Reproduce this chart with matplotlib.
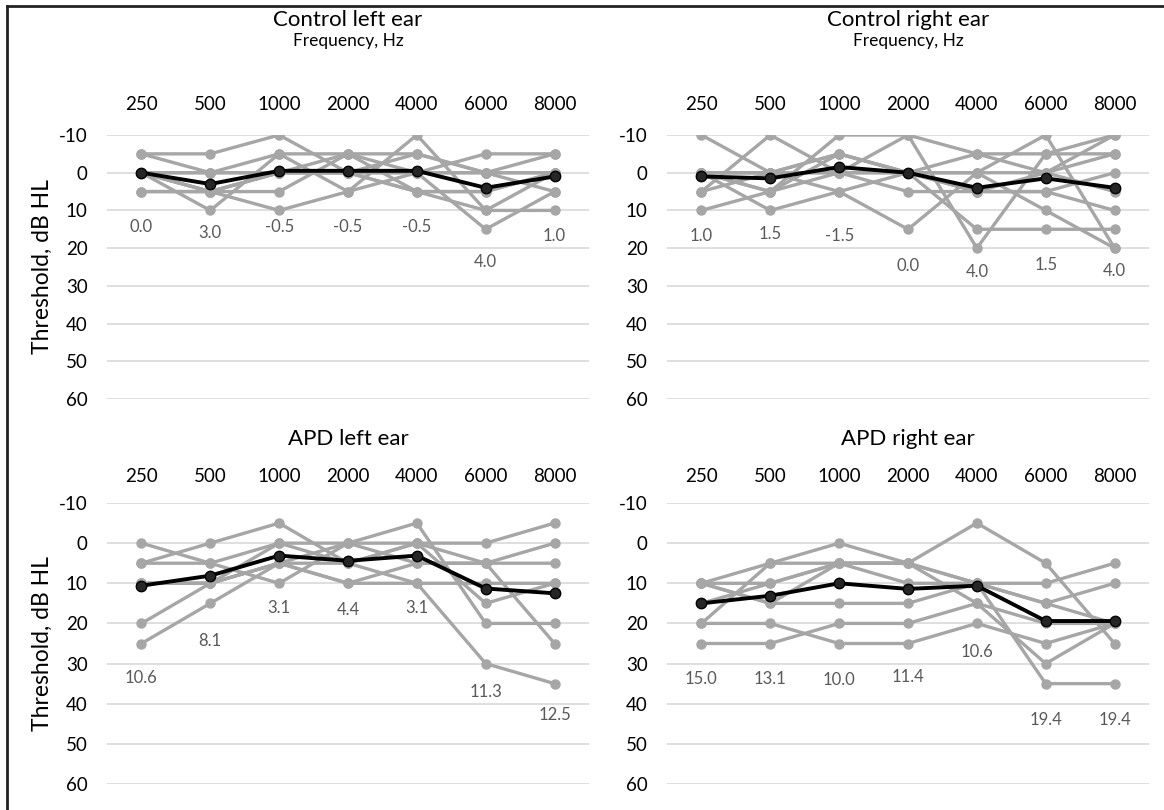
import matplotlib.pyplot as plt
from matplotlib.lines import Line2D

plt.rcParams['font.family'] = ['Lato', 'DejaVu Sans']
plt.rcParams['axes.unicode_minus'] = False

# frequencies (categories)
freqs = ['250', '500', '1000', '2000', '4000', '6000', '8000']

# individual thresholds, dB HL
control_left = [
    [-5, -5, -10, 0, 5, 5, 0],
    [0, 10, -5, -5, -5, 0, -5],
    [5, 5, 10, 5, -10, 10, 10],
    [0, 0, 0, 0, 0, 15, 5],
    [0, 5, 5, -5, 5, 10, 0],
    [0, 0, -5, 5, 0, -5, -5],
    [0, 5, 0, 0, -5, 0, 5],
    [-5, 0, 0, 0, 5, 5, 0],
    [5, 5, 0, -5, 0, 0, 0],
    [0, 5, 0, 0, 0, 0, 0],
]
control_right = [
    [-10, 0, 5, 0, 0, 10, 20],
    [5, -10, 0, -10, 20, -5, -5],
    [10, 5, -10, -10, -5, 0, -10],
    [0, 10, 5, 15, 0, -10, 20],
    [0, 0, -5, 0, 15, 15, 15],
    [5, 0, 0, 5, 5, 5, 10],
    [0, 5, 0, 0, -5, -5, -10],
    [0, 0, 0, 0, 5, 5, 0],
    [0, 5, -5, 0, 5, 0, 5],
    [0, 0, -5, 0, 0, 0, -5],
]
apd_left = [
    [5, 0, -5, 5, 10, 30, 35],
    [0, 5, 0, 0, -5, 20, 20],
    [10, 10, 0, 5, 0, 0, -5],
    [20, 10, 5, 10, 10, 10, 10],
    [25, 15, 5, 5, 0, 15, 10],
    [5, 5, 10, 0, 5, 5, 0],
    [10, 10, 5, 10, 5, 5, 25],
    [10, 10, 5, 0, 0, 5, 5],
]
apd_right = [
    [10, 5, 0, 5, -5, 5, 25],
    [10, 15, 15, 15, 10, 15, 20],
    [20, 5, 5, 5, 10, 10, 5],
    [15, 10, 5, 10, 10, 15, 10],
    [25, 25, 20, 20, 15, 30, 20],
    [20, 20, 25, 25, 20, 25, 20],
    [10, 15, 5, 5, 10, 35, 35],
    [10, 10, 5, 5, 15, 20, 20],
]

# group means (data labels)
mean_control_left = [0.0, 3.0, -0.5, -0.5, -0.5, 4.0, 1.0]
mean_control_right = [1.0, 1.5, -1.5, 0.0, 4.0, 1.5, 4.0]
mean_apd_left = [10.6, 8.1, 3.1, 4.4, 3.1, 11.3, 12.5]
mean_apd_right = [15.0, 13.1, 10.0, 11.4, 10.6, 19.4, 19.4]

# how far below the mean each label sits, dB
off_control_left = [14.5, 13, 14.8, 14.8, 14.8, 19.8, 15.9]
off_control_right = [15.9, 14.7, 18.3, 24.8, 22.4, 22.9, 22.1]
off_apd_left = [23, 16.4, 13.1, 12.2, 13.1, 25.8, 30.2]
off_apd_right = [18.9, 20.7, 24, 22, 16.5, 24.7, 24.6]

W, H = 1164, 810
fig = plt.figure(figsize=(W / 100, H / 100), dpi=100)

panels = [
    ('Control left ear', control_left, mean_control_left, off_control_left, 107, 135, 399, True, True),
    ('Control right ear', control_right, mean_control_right, off_control_right, 667, 135, 399, False, True),
    ('APD left ear', apd_left, mean_apd_left, off_apd_left, 107, 503, 784, True, False),
    ('APD right ear', apd_right, mean_apd_right, off_apd_right, 667, 503, 784, False, False),
]
x = list(range(len(freqs)))

for title, subj, means, offs, left, top, bottom, ylab, is_top in panels:
    ax = fig.add_axes([left / W, 1 - bottom / H, 482 / W, (bottom - top) / H])
    for s in subj:
        ax.plot(x, s, color='#a6a6a6', lw=2.4, marker='o', ms=6.5, zorder=2)
    ax.plot(x, means, color='black', lw=2.8, marker='o', ms=7.5,
            mfc='#262626', mec='black', zorder=3)
    for i, (m, o) in enumerate(zip(means, offs)):
        ax.text(i, m + o, f'{m:.1f}', ha='center', va='center', fontsize=12,
                color='#595959')
    ax.set_xlim(-0.5, 6.5)
    ax.set_ylim(60, -10)
    ax.set_yticks(range(-10, 61, 10))
    ax.set_xticks(x)
    ax.set_xticklabels(freqs)
    ax.xaxis.tick_top()
    ax.tick_params(axis='x', length=0, pad=16 if is_top else 13, labelsize=13.5, colors='black')
    ax.tick_params(axis='y', length=0, pad=14, labelsize=13.5, colors='black')
    for sp in ax.spines.values():
        sp.set_visible(False)
    ax.grid(axis='y', color='#d9d9d9', lw=1.2, zorder=0)
    ax.set_axisbelow(True)
    cx = (left + 241) / W
    if is_top:
        fig.text(cx, 1 - 20 / H, title, ha='center', va='center', fontsize=16)
        fig.text(cx, 1 - 41 / H, 'Frequency, Hz', ha='center', va='center', fontsize=12.5)
    else:
        fig.text(cx, 1 - 439 / H, title, ha='center', va='center', fontsize=16)
    if ylab:
        fig.text(42 / W, 1 - (top + bottom) / 2 / H, 'Threshold, dB HL', rotation=90,
                 ha='center', va='center', fontsize=16.5)

# frame on left and top edges
fig.add_artist(Line2D([7 / W, 7 / W], [0, 1 - 6 / H], color='#222222', lw=2))
fig.add_artist(Line2D([7 / W, 1], [1 - 6 / H, 1 - 6 / H], color='#222222', lw=2))

fig.savefig('out.png', dpi=100, facecolor='white')
